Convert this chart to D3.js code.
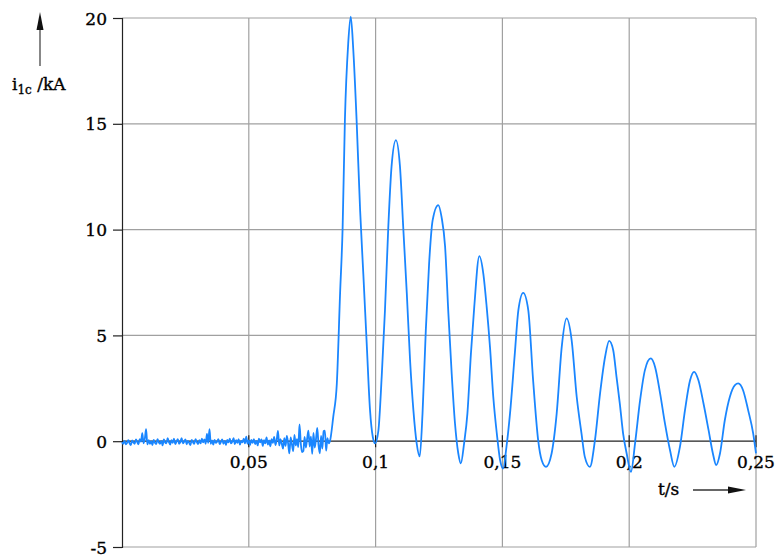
<!DOCTYPE html>
<html>
<head>
<meta charset="utf-8">
<script src="https://cdn.jsdelivr.net/npm/d3@7"></script>
<style>
  html, body { margin: 0; padding: 0; background: #fff; }
  svg { display: block; font-family: "DejaVu Serif", "Liberation Serif", serif; }
  text { fill: #000; stroke: #000; stroke-width: 0.35px; }
</style>
</head>
<body>
<svg id="chart" width="779" height="558"></svg>
<script>
// Axis ticks
const xTicks = [0.05, 0.1, 0.15, 0.2, 0.25];
const xTickLabels = ["0,05", "0,1", "0,15", "0,2", "0,25"];
const yTicks = [-5, 0, 5, 10, 15, 20];
const yTickLabels = ["-5", "0", "5", "10", "15", "20"];

// Pre-fault current (kA), sampled every 0.5 ms from t = 0
const noiseStep = 0.0005;
const noiseValues = [
  -0.05,-0.12,0.02,-0.15,-0.08,0.05,-0.1,-0.18,0.04,-0.06,-0.12,0.08,-0.04,-0.15,0.1,-0.02,
  0.38,-0.1,0.12,0.57,-0.15,0.05,-0.12,0.0,-0.18,0.06,-0.08,-0.14,0.1,-0.05,-0.12,0.02,
  -0.2,0.08,-0.06,-0.1,0.14,-0.04,-0.16,0.05,-0.08,0.12,-0.14,-0.02,0.1,-0.12,-0.05,0.15,
  -0.1,-0.03,0.08,-0.15,0.02,-0.08,-0.18,0.06,-0.05,-0.12,0.1,-0.04,-0.14,0.05,-0.1,0.12,
  -0.06,0.08,-0.12,0.35,-0.08,0.57,-0.12,0.04,-0.16,0.06,-0.08,-0.02,0.1,-0.14,-0.04,0.08,
  -0.12,0.02,-0.18,0.06,-0.06,0.12,-0.1,-0.02,0.15,-0.14,0.05,-0.08,0.1,-0.16,0.02,-0.06,
  0.12,-0.1,0.22,-0.12,0.04,-0.18,0.06,-0.08,0.1,-0.14,0.02,-0.2,0.12,-0.06,0.08,-0.22,
  0.05,-0.1,0.18,-0.16,0.04,-0.24,0.1,-0.08,0.2,-0.18,0.06,0.49,-0.2,0.1,-0.12,-0.35,
  0.15,-0.22,0.25,-0.1,-0.58,0.18,-0.15,-0.47,0.3,-0.2,0.1,-0.28,0.79,-0.1,-0.52,-0.47,
  0.2,-0.3,0.12,0.5,-0.25,0.22,-0.6,0.39,-0.3,0.1,0.63,-0.2,-0.57,0.25,-0.35,0.47,
  0.5,-0.45,0.15,-0.1
];

// Short-circuit current after fault inception: time (s) and current (kA)
const faultTime = [
  0.0820,0.0833,0.0847,0.0860,0.0870,0.0879,0.0892,0.0902,0.0912,0.0925,0.0939,0.0952,0.0965,0.0978,0.0989,0.0998,
  0.1011,0.1024,0.1037,0.1050,0.1063,0.1080,0.1096,0.1109,0.1123,0.1136,0.1149,0.1162,0.1174,
  0.1185,0.1198,0.1211,0.1225,0.1247,0.1260,0.1274,0.1287,0.1300,0.1313,0.1326,0.1336,
  0.1349,0.1362,0.1376,0.1389,0.1409,0.1425,0.1438,0.1451,0.1464,0.1478,0.1491,0.1503,
  0.1516,0.1530,0.1549,0.1563,0.1582,0.1602,0.1621,0.1641,0.1655,0.1672,
  0.1694,0.1714,0.1734,0.1753,0.1773,0.1793,0.1812,0.1825,0.1845,
  0.1865,0.1885,0.1905,0.1921,0.1937,0.1950,0.1963,0.1976,0.1990,0.2007,
  0.2023,0.2043,0.2062,0.2085,0.2102,0.2122,0.2141,0.2161,0.2178,
  0.2200,0.2220,0.2240,0.2256,0.2273,0.2293,0.2313,0.2330,0.2343,
  0.2358,0.2377,0.2397,0.2417,0.2430,0.2449,0.2469,0.2489,0.2500
];
const faultCurrent = [
  0.0,1.15,2.7,7.0,10.1,15.2,18.8,20.06,18.5,15.2,10.9,7.8,4.6,1.47,0.2,-0.1,
  0.5,3.04,6.2,10.1,13.0,14.23,13.0,10.1,7.0,3.8,1.47,-0.1,-0.72,
  1.3,5.25,8.4,10.45,11.16,10.6,9.2,6.04,3.2,0.85,-0.57,-1.05,
  -0.1,1.3,4.16,6.35,8.75,7.9,6.35,4.46,2.1,0.36,-0.9,-1.29,
  -0.27,1.3,4.15,6.2,7.01,6.2,2.9,0.05,-0.9,-1.21,
  -0.58,1.3,4.46,5.8,4.78,2.1,0.36,-0.74,-1.21,
  0.05,2.25,3.99,4.74,4.3,3.04,1.78,0.36,-0.58,-1.45,
  -0.11,1.94,3.36,3.91,3.51,2.25,0.84,-0.43,-1.21,
  -0.27,1.47,2.88,3.28,2.88,1.78,0.52,-0.58,-1.13,
  -0.58,0.99,2.1,2.65,2.73,2.41,1.47,0.36,-0.58
];

const svg = d3.select("#chart");
const plotLeft = 122, plotRight = 756, plotTop = 18, plotBottom = 547;

const x = d3.scaleLinear().domain([0, 0.25]).range([plotLeft, plotRight]);
const y = d3.scaleLinear().domain([-5, 20]).range([plotBottom, plotTop]);

const gridColor = "#a0a0a0";
const axisColor = "#222";

// Grid lines
svg.append("g").selectAll("line").data(xTicks).join("line")
  .attr("x1", d => x(d)).attr("x2", d => x(d))
  .attr("y1", plotTop).attr("y2", plotBottom)
  .attr("stroke", gridColor).attr("stroke-width", 1.2);
svg.append("g").selectAll("line").data(yTicks.filter(v => v !== 0)).join("line")
  .attr("x1", plotLeft).attr("x2", plotRight)
  .attr("y1", d => y(d)).attr("y2", d => y(d))
  .attr("stroke", gridColor).attr("stroke-width", 1.2);

// Y axis with outward ticks
const yAxis = d3.axisLeft(y).tickValues(yTicks)
  .tickFormat((d, i) => yTickLabels[i]).tickSize(9).tickPadding(6);
const gy = svg.append("g").attr("transform", `translate(${plotLeft},0)`).call(yAxis);
gy.select(".domain").attr("stroke", axisColor).attr("stroke-width", 1.2);
gy.selectAll(".tick line").attr("stroke", axisColor).attr("stroke-width", 1.2);
gy.selectAll(".tick text").attr("font-size", 17)
  .attr("font-family", "DejaVu Serif, serif").attr("dy", "0.36em");

// X axis through zero, ticks crossing the line
const gx = svg.append("g");
gx.append("line").attr("x1", plotLeft).attr("x2", plotRight)
  .attr("y1", y(0)).attr("y2", y(0))
  .attr("stroke", axisColor).attr("stroke-width", 1.2);
gx.selectAll("line.tk").data(xTicks).join("line").attr("class", "tk")
  .attr("x1", d => x(d)).attr("x2", d => x(d))
  .attr("y1", y(0) - 6).attr("y2", y(0) + 6)
  .attr("stroke", axisColor).attr("stroke-width", 1.2);
gx.selectAll("text").data(xTicks).join("text")
  .attr("x", d => x(d)).attr("y", y(0) + 27)
  .attr("text-anchor", "middle").attr("font-size", 17)
  .text((d, i) => xTickLabels[i]);

// Signal trace
const points = noiseValues.map((v, i) => [i * noiseStep, v])
  .concat(faultTime.map((t, i) => [t, faultCurrent[i]]));
const line = d3.line().x(d => x(d[0])).y(d => y(d[1])).curve(d3.curveMonotoneX);
svg.append("path").datum(points)
  .attr("d", line).attr("fill", "none")
  .attr("stroke", "#1a86ff").attr("stroke-width", 1.8)
  .attr("stroke-linejoin", "round");

// Axis captions with arrows
const yLabel = svg.append("text").attr("x", 12).attr("y", 90)
  .attr("font-size", 17);
yLabel.append("tspan").text("i");
yLabel.append("tspan").attr("font-size", 12).attr("dy", 4).text("1c");
yLabel.append("tspan").attr("dy", -4).text(" /kA");

svg.append("line").attr("x1", 40).attr("x2", 40).attr("y1", 66).attr("y2", 28)
  .attr("stroke", "#555").attr("stroke-width", 1.4);
svg.append("path").attr("d", "M40,12 L36.5,30 L43.5,30 Z").attr("fill", "#111");

svg.append("text").attr("x", 658).attr("y", 495)
  .attr("font-size", 17).text("t/s");
svg.append("line").attr("x1", 693).attr("x2", 730).attr("y1", 490).attr("y2", 490)
  .attr("stroke", "#333").attr("stroke-width", 1.4);
svg.append("path").attr("d", "M746,490 L728,486.5 L728,493.5 Z").attr("fill", "#111");
</script>
</body>
</html>
